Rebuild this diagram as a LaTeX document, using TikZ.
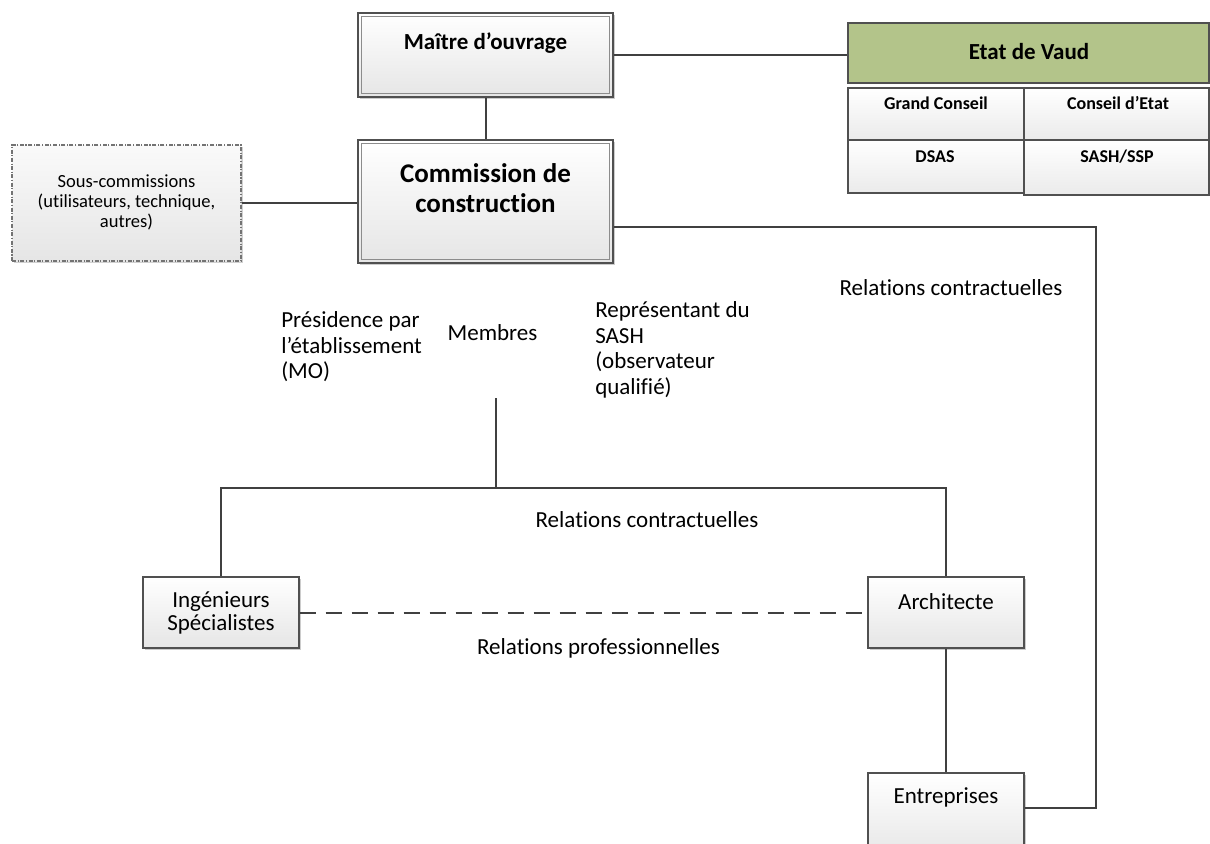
\documentclass[tikz,border=0pt]{standalone}
\usepackage{fontspec}
\setmainfont{Carlito}[Ligatures=NoCommon]
\usetikzlibrary{fit,shadows}
\definecolor{linec}{HTML}{404040}
\definecolor{boxline}{HTML}{505050}
\definecolor{vaud}{HTML}{B3C48A}
\tikzset{
  conn/.style={draw=linec, line width=1.5pt},
  boxbase/.style={draw=boxline, line width=0.9pt, inner sep=0pt, top color=white, bottom color=black!10,
     drop shadow={shadow xshift=1.8pt, shadow yshift=-1.8pt, opacity=0.2, fill=black}},
  cellbox/.style={draw=boxline, line width=0.9pt, inner sep=0pt, top color=white, bottom color=black!8},
  dashbox/.style={draw=black!55, line width=0.8pt, inner sep=0pt, top color=black!2, bottom color=black!10,
     dash pattern=on 3pt off 1.2pt on 0.8pt off 1.2pt,
     drop shadow={shadow xshift=1.8pt, shadow yshift=-1.8pt, opacity=0.18, fill=black}},
  greenbox/.style={draw=boxline, line width=0.9pt, inner sep=0pt, fill=vaud},
  inner/.style={draw=black!45, line width=0.7pt},
  body/.style={font=\fontsize{17.25pt}{19.1pt}\selectfont, inner sep=0pt, text=black},
  small/.style={font=\fontsize{13.9pt}{15pt}\selectfont, inner sep=0pt, align=center},
  titleb/.style={font=\fontsize{17.25pt}{19pt}\selectfont\bfseries, inner sep=0pt},
  bigb/.style={font=\fontsize{20.25pt}{22.5pt}\selectfont\bfseries, inner sep=0pt, align=center},
  cellt/.style={font=\fontsize{13.5pt}{15pt}\selectfont\bfseries, inner sep=0pt},
}
\begin{document}
\begin{tikzpicture}[x=0.75pt,y=-0.75pt]
\useasboundingbox (0,0) rectangle (1210,843);
\fill[white] (0,0) rectangle (1210,843);
\begin{scope}
\clip (0,0) rectangle (1210,843);
% boxes
\node[boxbase, fit={(358,13) (613,97)}] (mo) {};
\draw[inner] ([shift={(4,4)}]mo.north west) rectangle ([shift={(-4,-4)}]mo.south east);
\node[titleb] (mot) at (485.5,43) {Maître d’ouvrage};

\node[boxbase, fit={(358,140) (613,263)}] (cc) {};
\draw[inner] ([shift={(4,4)}]cc.north west) rectangle ([shift={(-4,-4)}]cc.south east);
\node[bigb] (cct) at (485.5,188) {Commission de\\construction};

\node[greenbox, fit={(848,23) (1209,83)}] (ev) {};
\node[titleb] (evt) at (1029,52) {Etat de Vaud};

\node[cellbox, fit={(848,88) (1024,140)}] (g1) {};
\node[cellbox, fit={(1024,88) (1209,140)}] (g2) {};
\node[cellbox, fit={(848,140) (1024,193)}] (g3) {};
\node[cellbox, fit={(1024,140) (1209,195)}] (g4) {};
\node[cellt] (g1t) at (936,103) {Grand Conseil};
\node[cellt] (g2t) at (1118,103) {Conseil d’Etat};
\node[cellt] (g3t) at (935,157) {DSAS};
\node[cellt] (g4t) at (1117,157) {SASH/SSP};

\node[dashbox, fit={(12,145) (241,261)}] (sc) {};
\node[small] (sct) at (126.5,202) {Sous-commissions\\(utilisateurs, technique,\\autres)};

\node[boxbase, fit={(143,577) (299,648)}] (ing) {};
\node[body, align=center, font=\fontsize{17.25pt}{17.6pt}\selectfont] (ingt) at (221,613) {Ingénieurs\\Spécialistes};

\node[boxbase, fit={(868,577) (1024,648)}] (arch) {};
\node[body] (archt) at (946,602) {Architecte};

\node[boxbase, fit={(868,773) (1024,860)}] (ent) {};
\node[body] (entt) at (946,797) {Entreprises};

% free texts
\node[body] (rc1) at (951,288) {Relations contractuelles};
\node[body, align=left, anchor=west] (pres) at (281,347) {Présidence par\\l’établissement\\(MO)};
\node[body] (memb) at (492.5,333) {Membres};
\node[body, align=left, anchor=west] (rep) at (595,350) {Représentant du\\SASH\\(observateur\\qualifié)};
\node[body] (rc2) at (647,520) {Relations contractuelles};
\node[body] (rp) at (598.5,648) {Relations professionnelles};

% connectors
\coordinate (mtop) at (496,398);
\coordinate (junc) at (496,488);
\coordinate (hl) at (221,488);
\coordinate (hr) at (946,488);
\coordinate (c1) at (1096,227);
\coordinate (c2) at (1096,808);

\draw[conn] (mo.east) -- (mo.east -| ev.west);
\draw[conn] (mo.south) -- (cc.north);
\draw[conn] (sc.east) -- (sc.east -| cc.west);
\draw[conn] (cc.east |- c1) -- (c1) -- (c2) -- (ent.east |- c2);
\draw[conn] (mtop) -- (junc);
\draw[conn] (ing.north) -- (hl) -- (hr) -- (arch.north);
\draw[conn, dash pattern=on 12pt off 7.5pt] (ing.east) -- (arch.west);
\draw[conn] (arch.south) -- (ent.north);
\end{scope}
\end{tikzpicture}
\end{document}
